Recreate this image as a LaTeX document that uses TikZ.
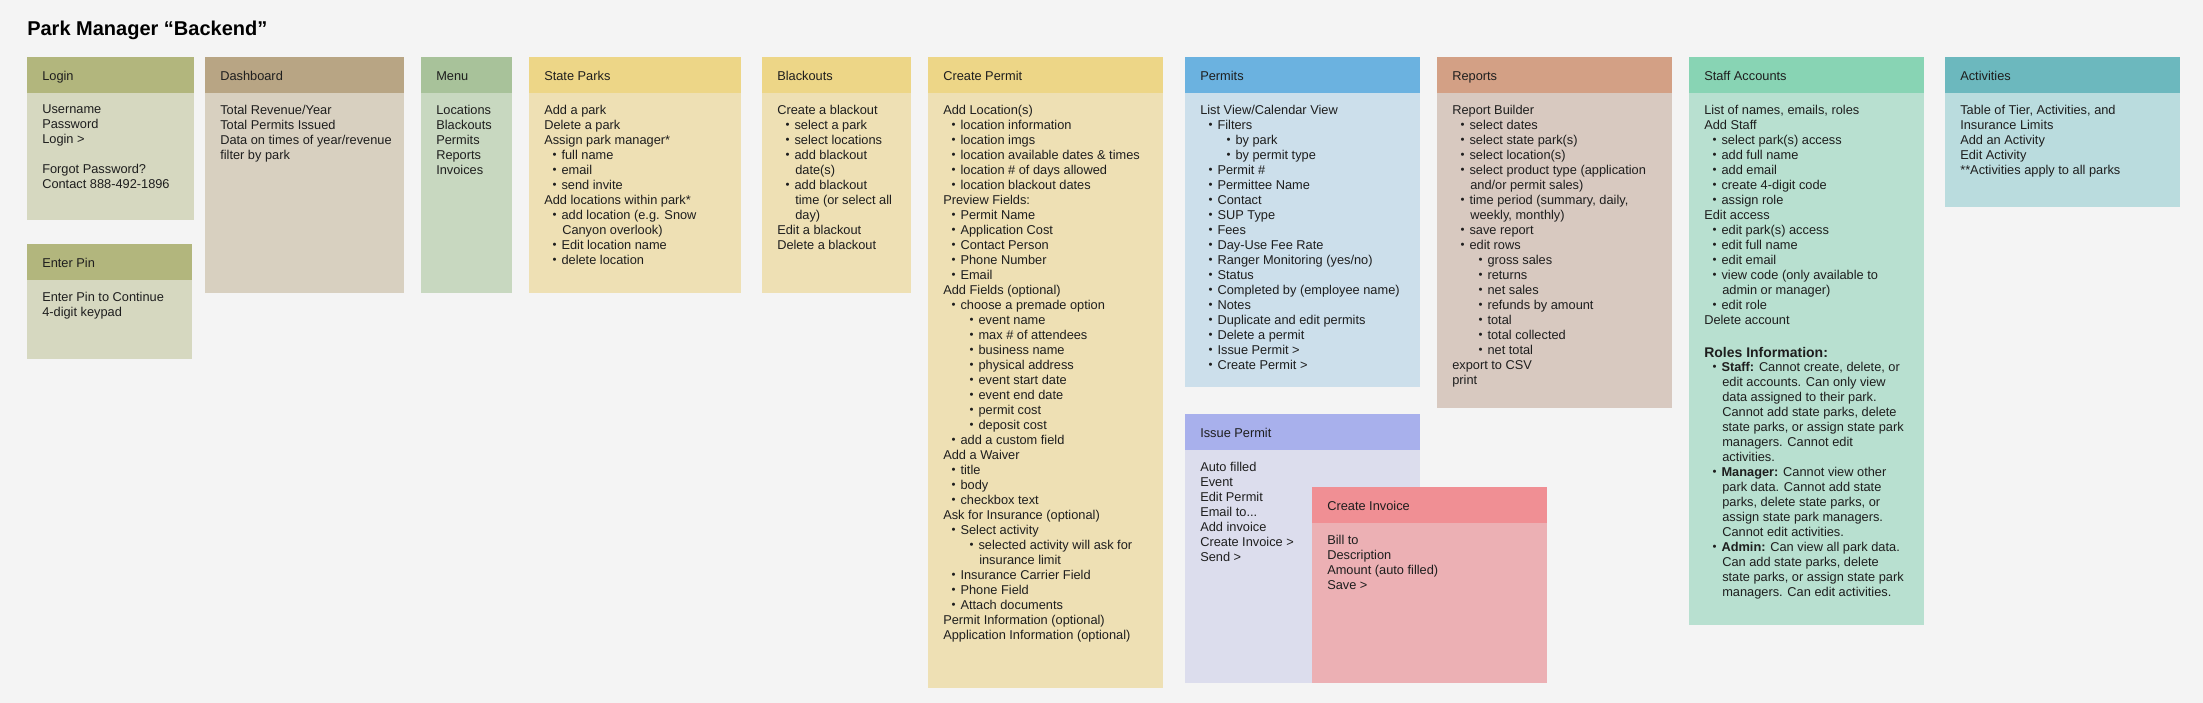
\documentclass[tikz,border=0pt]{standalone}
\usepackage{fontspec}
\setmainfont{Liberation Sans}
\usepackage{xcolor}
\usepackage{tikz}

\definecolor{bgcol}{HTML}{F4F4F4}
\definecolor{loginhd}{HTML}{B2B67D}
\definecolor{loginbd}{HTML}{D6D8C0}
\definecolor{dashhd}{HTML}{B8A584}
\definecolor{dashbd}{HTML}{D8D0C0}
\definecolor{menuhd}{HTML}{A8C29A}
\definecolor{menubd}{HTML}{C8D8C0}
\definecolor{yellowhd}{HTML}{EDD687}
\definecolor{yellowbd}{HTML}{EEE0B4}
\definecolor{permhd}{HTML}{6BB2E0}
\definecolor{permbd}{HTML}{CCDFEB}
\definecolor{issuehd}{HTML}{A8B0EC}
\definecolor{issuebd}{HTML}{DCDDED}
\definecolor{invhd}{HTML}{F08F94}
\definecolor{invbd}{HTML}{ECB0B4}
\definecolor{rephd}{HTML}{D3A085}
\definecolor{repbd}{HTML}{D8C9C0}
\definecolor{staffhd}{HTML}{88D4B4}
\definecolor{staffbd}{HTML}{B8E0D0}
\definecolor{acthd}{HTML}{6CB8BE}
\definecolor{actbd}{HTML}{BADCDE}
\definecolor{ink}{HTML}{1E1E1E}

% bullets and indents (1px = 0.75pt)
\newcommand{\bul}{\makebox[6.75pt][l]{\fontsize{8.5}{8.5}\selectfont\raisebox{0.3pt}{\textbullet}}}
\newcommand{\la}{\hspace*{6.2pt}\bul}
\newcommand{\lb}{\hspace*{19.7pt}\bul}
\newcommand{\ca}{\hspace*{13.5pt}}
\newcommand{\cb}{\hspace*{27pt}}

\begin{document}
\begin{tikzpicture}[
            x=0.75pt, y=-0.75pt,
            head/.style={anchor=base west, inner sep=0pt, text=ink, font=\fontsize{9.6}{11.25}\selectfont},
            body/.style={anchor=north west, inner sep=0pt, align=left, text=ink, font=\fontsize{9.6}{11.25}\selectfont, execute at begin node=\strut}
            ]
            \useasboundingbox (0,0) rectangle (2203,703);
            \fill[bgcol] (0,0) rectangle (2203,703);

            \node[anchor=base west, inner sep=0pt, font=\fontsize{15}{18}\selectfont\bfseries] (title) at (27,36) {Park Manager “Backend”};

            % Login
            \fill[loginbd] (27,57) rectangle (194,220);
            \fill[loginhd] (27,57) rectangle (194,93);
            \node[head] (login) at (42,80) {Login};
            \node[body] (logintxt) at (42,104.5) {Username\\Password\\Login >\\[11.25pt]Forgot Password?\\Contact 888-492-1896};

            % Enter Pin
            \fill[loginbd] (27,244) rectangle (192,359);
            \fill[loginhd] (27,244) rectangle (192,280);
            \node[head] (pin) at (42,267) {Enter Pin};
            \node[body] (pintxt) at (42,291.5) {Enter Pin to Continue\\4-digit keypad};

            % Dashboard
            \fill[dashbd] (205,57) rectangle (404,293);
            \fill[dashhd] (205,57) rectangle (404,93);
            \node[head] (dash) at (220,80) {Dashboard};
            \node[body] (dashtxt) at (220,104.5) {Total Revenue/Year\\Total Permits Issued\\Data on times of year/revenue\\filter by park};

            % Menu
            \fill[menubd] (421,57) rectangle (512,293);
            \fill[menuhd] (421,57) rectangle (512,93);
            \node[head] (menu) at (436,80) {Menu};
            \node[body] (menutxt) at (436,104.5) {Locations\\Blackouts\\Permits\\Reports\\Invoices};

            % State Parks
            \fill[yellowbd] (529,57) rectangle (741,293);
            \fill[yellowhd] (529,57) rectangle (741,93);
            \node[head] (parks) at (544,80) {State Parks};
            \node[body] (parkstxt) at (544,104.5) {Add a park\\Delete a park\\Assign park manager*\\
                \la full name\\\la email\\\la send invite\\Add locations within park*\\
                \la add location (e.g. Snow\\\ca Canyon overlook)\\\la Edit location name\\\la delete location};

            % Blackouts
            \fill[yellowbd] (762,57) rectangle (911,293);
            \fill[yellowhd] (762,57) rectangle (911,93);
            \node[head] (black) at (777,80) {Blackouts};
            \node[body] (blacktxt) at (777,104.5) {Create a blackout\\\la select a park\\\la select locations\\
                \la add blackout\\\ca date(s)\\\la add blackout\\\ca time (or select all\\\ca day)\\
                Edit a blackout\\Delete a blackout};

            % Create Permit
            \fill[yellowbd] (928,57) rectangle (1163,688);
            \fill[yellowhd] (928,57) rectangle (1163,93);
            \node[head] (create) at (943,80) {Create Permit};
            \node[body] (createtxt) at (943,104.5) {Add Location(s)\\\la location information\\\la location imgs\\
                \la location available dates \& times\\\la location \# of days allowed\\\la location blackout dates\\
                Preview Fields:\\\la Permit Name\\\la Application Cost\\\la Contact Person\\\la Phone Number\\\la Email\\
                Add Fields (optional)\\\la choose a premade option\\\lb event name\\\lb max \# of attendees\\
                \lb business name\\\lb physical address\\\lb event start date\\\lb event end date\\\lb permit cost\\
                \lb deposit cost\\\la add a custom field\\Add a Waiver\\\la title\\\la body\\\la checkbox text\\
                Ask for Insurance (optional)\\\la Select activity\\\lb selected activity will ask for\\\cb insurance limit\\
                \la Insurance Carrier Field\\\la Phone Field\\\la Attach documents\\
                Permit Information (optional)\\Application Information (optional)};

            % Permits
            \fill[permbd] (1185,57) rectangle (1420,387);
            \fill[permhd] (1185,57) rectangle (1420,93);
            \node[head] (permits) at (1200,80) {Permits};
            \node[body] (permitstxt) at (1200,104.5) {List View/Calendar View\\\la Filters\\\lb by park\\\lb by permit type\\
                \la Permit \#\\\la Permittee Name\\\la Contact\\\la SUP Type\\\la Fees\\\la Day-Use Fee Rate\\
                \la Ranger Monitoring (yes/no)\\\la Status\\\la Completed by (employee name)\\\la Notes\\
                \la Duplicate and edit permits\\\la Delete a permit\\\la Issue Permit >\\\la Create Permit >};

            % Issue Permit
            \fill[issuebd] (1185,414) rectangle (1420,683);
            \fill[issuehd] (1185,414) rectangle (1420,450);
            \node[head] (issue) at (1200,437) {Issue Permit};
            \node[body] (issuetxt) at (1200,461.5) {Auto filled\\Event\\Edit Permit\\Email to...\\Add invoice\\Create Invoice >\\Send >};

            % Create Invoice
            \fill[invbd] (1312,487) rectangle (1547,683);
            \fill[invhd] (1312,487) rectangle (1547,523);
            \node[head] (invoice) at (1327,510) {Create Invoice};
            \node[body] (invoicetxt) at (1327,534.5) {Bill to\\Description\\Amount (auto filled)\\Save >};

            % Reports
            \fill[repbd] (1437,57) rectangle (1672,408);
            \fill[rephd] (1437,57) rectangle (1672,93);
            \node[head] (reports) at (1452,80) {Reports};
            \node[body] (reportstxt) at (1452,104.5) {Report Builder\\\la select dates\\\la select state park(s)\\
                \la select location(s)\\\la select product type (application\\\ca and/or permit sales)\\
                \la time period (summary, daily,\\\ca weekly, monthly)\\\la save report\\\la edit rows\\
                \lb gross sales\\\lb returns\\\lb net sales\\\lb refunds by amount\\\lb total\\\lb total collected\\
                \lb net total\\export to CSV\\print};

            % Staff Accounts
            \fill[staffbd] (1689,57) rectangle (1924,625);
            \fill[staffhd] (1689,57) rectangle (1924,93);
            \node[head] (staff) at (1704,80) {Staff Accounts};
            \node[body] (stafftxt) at (1704,104.5) {List of names, emails, roles\\Add Staff\\\la select park(s) access\\
                \la add full name\\\la add email\\\la create 4-digit code\\\la assign role\\Edit access\\
                \la edit park(s) access\\\la edit full name\\\la edit email\\\la view code (only available to\\
                \ca admin or manager)\\\la edit role\\Delete account};
            \node[anchor=base west, inner sep=0pt, text=ink, font=\fontsize{10.5}{12}\selectfont\bfseries] (roles) at (1704,357) {Roles Information:};
            \node[body] (rolestxt) at (1704,361.5) {\la \textbf{Staff:} Cannot create, delete, or\\\ca edit accounts. Can only view\\
                \ca data assigned to their park.\\\ca Cannot add state parks, delete\\\ca state parks, or assign state park\\
                \ca managers. Cannot edit\\\ca activities.\\
                \la \textbf{Manager:} Cannot view other\\\ca park data. Cannot add state\\\ca parks, delete state parks, or\\
                \ca assign state park managers.\\\ca Cannot edit activities.\\
                \la \textbf{Admin:} Can view all park data.\\\ca Can add state parks, delete\\\ca state parks, or assign state park\\
                \ca managers. Can edit activities.};

            % Activities
            \fill[actbd] (1945,57) rectangle (2180,207);
            \fill[acthd] (1945,57) rectangle (2180,93);
            \node[head] (activ) at (1960,80) {Activities};
            \node[body] (activtxt) at (1960,104.5) {Table of Tier, Activities, and\\Insurance Limits\\Add an Activity\\Edit Activity\\**Activities apply to all parks};
        \end{tikzpicture}
\end{document}
